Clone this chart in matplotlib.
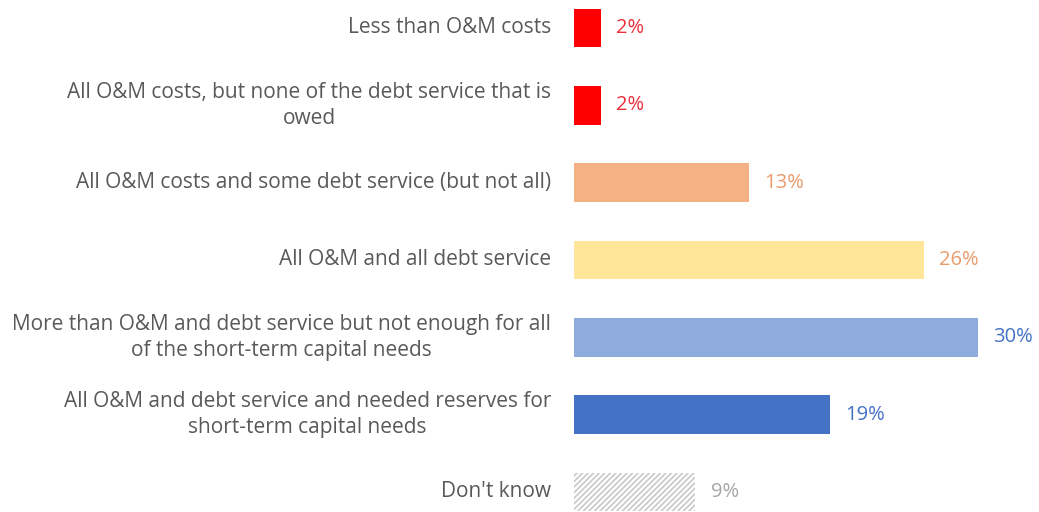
import matplotlib.pyplot as plt

# Share of respondents by how far revenue covers system costs
categories = [
    'Less than O&M costs',
    'All O&M costs, but none of the debt service that is\nowed',
    'All O&M costs and some debt service (but not all)',
    'All O&M and all debt service',
    'More than O&M and debt service but not enough for all\nof the short-term capital needs',
    'All O&M and debt service and needed reserves for\nshort-term capital needs',
    "Don't know",
]
values = [2, 2, 13, 26, 30, 19, 9]

bar_colors = ['#FF0000', '#FF0000', '#F4B183', '#FFE699', '#8FAADC', '#4472C4', 'white']
label_colors = ['#E8303A', '#E8303A', '#E99B6C', '#E99B6C', '#4472C4', '#4472C4', '#A6A6A6']


def main():
    plt.rcParams['font.family'] = ['Open Sans', 'DejaVu Sans']
    plt.rcParams['hatch.linewidth'] = 1.2
    plt.rcParams['hatch.color'] = '#C8C8C8'

    fig = plt.figure(figsize=(10.39, 5.12), dpi=100)
    ax = fig.add_axes([574 / 1039, 0, 1 - 574 / 1039, 1])

    ypos = list(range(len(values)))
    bars = ax.barh(ypos, values, height=0.5, color=bar_colors, linewidth=0)

    # the "don't know" bar is drawn with a light diagonal hatch
    bars[-1].set_hatch('//////')
    bars[-1].set_edgecolor('#C8C8C8')
    bars[-1].set_linewidth(0)

    for y, v, c in zip(ypos, values, label_colors):
        ax.text(v + 1.15, y, f'{v}%', color=c, fontsize=14.5, va='center', ha='left')

    for y, name in zip(ypos, categories):
        ax.text(-1.7, y, name, color='#595959', fontsize=15, va='center',
                ha='right', multialignment='center', linespacing=1.3)

    ax.set_xlim(0, (1039 - 574) / 13.45)
    ax.set_ylim(6.259, -0.362)
    ax.axis('off')

    fig.savefig('out.png', dpi=100)


if __name__ == "__main__":
    main()
